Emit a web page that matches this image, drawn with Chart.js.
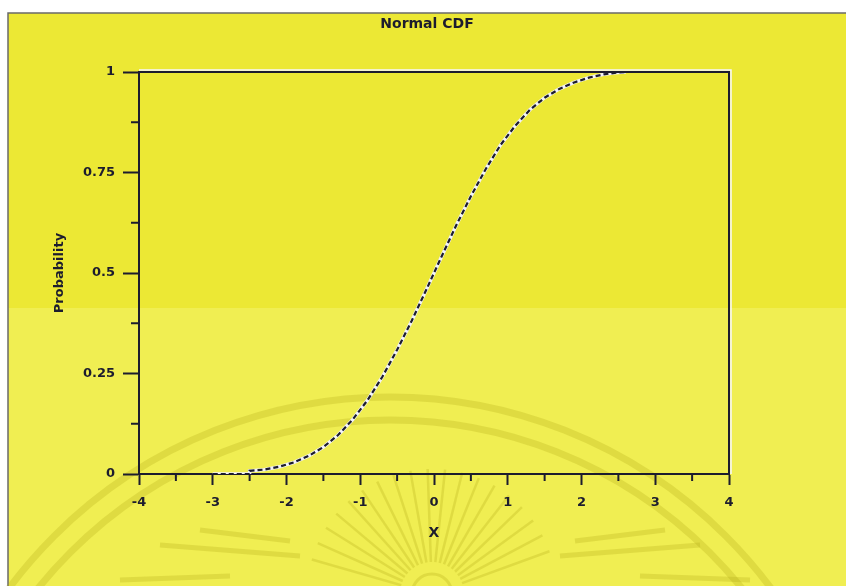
<!DOCTYPE html>
<html>
<head>
<meta charset="utf-8">
<script src="https://cdn.jsdelivr.net/npm/chart.js@4/dist/chart.umd.min.js"></script>
<style>
  html, body { margin: 0; padding: 0; background: #ffffff; }
  #wrap { width: 846px; height: 586px; position: relative; }
</style>
</head>
<body>
<div id="wrap"><canvas id="cdf"></canvas></div>
<script>
// Labels
const chartTitle = 'Normal CDF';
const xAxisTitle = 'X';
const yAxisTitle = 'Probability';

// Axis ticks
const xTickValues = [-4, -3, -2, -1, 0, 1, 2, 3, 4];
const xTickLabels = ['-4', '-3', '-2', '-1', '0', '1', '2', '3', '4'];
const xMinorTicks = [-3.5, -2.5, -1.5, -0.5, 0.5, 1.5, 2.5, 3.5];
const yTickValues = [0, 0.25, 0.5, 0.75, 1];
const yTickLabels = ['0', '0.25', '0.5', '0.75', '1'];
const yMinorTicks = [0.125, 0.375, 0.625, 0.875];

// Cumulative probability curve
const cdfX = [-3.0, -2.5, -2.5, -2.3, -2.1, -1.9, -1.7, -1.5, -1.3, -1.1, -0.9, -0.7, -0.5,
              -0.3, -0.1, 0.1, 0.3, 0.5, 0.7, 0.9, 1.1, 1.3, 1.5, 1.7, 1.9, 2.1, 2.3, 2.45, 2.6];
const cdfY = [0.0, 0.0, 0.008, 0.011, 0.018, 0.029, 0.045, 0.067, 0.097, 0.136, 0.184, 0.242, 0.309,
              0.382, 0.460, 0.540, 0.618, 0.691, 0.758, 0.818, 0.866, 0.906, 0.936, 0.958, 0.974, 0.986, 0.994, 0.998, 1.0];

const points = cdfX.map((x, i) => ({ x: x, y: cdfY[i] }));

const INK = '#1c1c2e';
const FONT = 'DejaVu Sans';

// Page background, seal watermark, plot frame and minor ticks
const framePlugin = {
  id: 'frame',
  beforeDraw(chart) {
    const ctx = chart.ctx;
    const W = chart.width, H = chart.height;
    ctx.save();
    ctx.fillStyle = '#ffffff';
    ctx.fillRect(0, 0, W, H);
    ctx.fillStyle = '#ece834';
    ctx.fillRect(8, 13, W - 8, 308 - 13);
    ctx.fillStyle = '#f0ee52';
    ctx.fillRect(8, 308, W - 8, H - 308);
    ctx.strokeStyle = '#6a6a6a';
    ctx.lineWidth = 1.5;
    ctx.beginPath();
    ctx.moveTo(8, H);
    ctx.lineTo(8, 13);
    ctx.lineTo(W, 13);
    ctx.stroke();

    // faint seal
    ctx.strokeStyle = 'rgba(175, 165, 20, 0.26)';
    ctx.lineWidth = 7;
    ctx.beginPath();
    ctx.arc(390, 872, 475, Math.PI, 2 * Math.PI);
    ctx.stroke();
    ctx.beginPath();
    ctx.arc(390, 872, 452, Math.PI, 2 * Math.PI);
    ctx.stroke();
    const sx = 432, sy = 594;
    ctx.lineWidth = 2.5;
    for (let a = 196; a <= 344; a += 8) {
      const r = a * Math.PI / 180;
      ctx.beginPath();
      ctx.moveTo(sx + 32 * Math.cos(r), sy + 32 * Math.sin(r));
      ctx.lineTo(sx + 125 * Math.cos(r), sy + 125 * Math.sin(r));
      ctx.stroke();
    }
    ctx.lineWidth = 3;
    ctx.beginPath();
    ctx.arc(sx, sy, 20, Math.PI, 2 * Math.PI);
    ctx.stroke();
    ctx.lineWidth = 5;
    [[160, 545, 300, 556], [200, 530, 290, 541], [560, 556, 700, 545], [575, 541, 665, 530],
     [120, 580, 230, 576], [640, 576, 750, 580]].forEach(s => {
      ctx.beginPath();
      ctx.moveTo(s[0], s[1]);
      ctx.lineTo(s[2], s[3]);
      ctx.stroke();
    });
    ctx.restore();
  },
  afterDraw(chart) {
    const ctx = chart.ctx;
    const a = chart.chartArea;
    const xs = chart.scales.x, ys = chart.scales.y;
    ctx.save();
    // light edge outside top and right frame lines
    ctx.strokeStyle = '#f6f6ff';
    ctx.lineWidth = 1.5;
    ctx.beginPath();
    ctx.moveTo(a.left, a.top - 2);
    ctx.lineTo(a.right + 2, a.top - 2);
    ctx.lineTo(a.right + 2, a.bottom);
    ctx.stroke();
    ctx.strokeStyle = INK;
    ctx.lineWidth = 2;
    ctx.beginPath();
    ctx.moveTo(a.left, a.top);
    ctx.lineTo(a.right, a.top);
    ctx.lineTo(a.right, a.bottom);
    ctx.stroke();
    // minor ticks
    ctx.lineWidth = 2;
    xMinorTicks.forEach(v => {
      const px = xs.getPixelForValue(v);
      ctx.beginPath();
      ctx.moveTo(px, a.bottom);
      ctx.lineTo(px, a.bottom + 7);
      ctx.stroke();
    });
    yMinorTicks.forEach(v => {
      const py = ys.getPixelForValue(v);
      ctx.beginPath();
      ctx.moveTo(a.left - 8, py);
      ctx.lineTo(a.left, py);
      ctx.stroke();
    });
    ctx.restore();
  }
};

new Chart(document.getElementById('cdf'), {
  type: 'line',
  data: {
    datasets: [
      {
        data: points,
        borderColor: INK,
        borderWidth: 2.2,
        borderDash: [5, 3],
        pointRadius: 0,
        tension: 0,
        fill: false,
        order: 0
      },
      {
        data: points,
        borderColor: '#f2f2fa',
        borderWidth: 3.4,
        pointRadius: 0,
        tension: 0,
        fill: false,
        order: 1
      }
    ]
  },
  options: {
    responsive: true,
    maintainAspectRatio: false,
    animation: false,
    events: [],
    layout: { padding: { left: 8, right: 0, top: 0, bottom: 0 } },
    plugins: {
      legend: { display: false },
      tooltip: { enabled: false },
      title: {
        display: true,
        text: chartTitle,
        color: INK,
        font: { family: FONT, size: 14, weight: 'bold' },
        padding: { top: 16, bottom: 39.2 }
      }
    },
    scales: {
      x: {
        type: 'linear',
        min: -4,
        max: 4,
        afterBuildTicks: s => { s.ticks = xTickValues.map(v => ({ value: v })); },
        afterFit: s => { s.height = 112; },
        ticks: {
          color: INK,
          font: { family: FONT, size: 13, weight: 'bold' },
          padding: 10,
          maxRotation: 0,
          autoSkip: false,
          callback: (v, i) => xTickLabels[i]
        },
        grid: { drawOnChartArea: false, drawTicks: true, tickLength: 11, tickColor: INK, tickWidth: 2 },
        border: { display: true, color: INK, width: 2 },
        title: {
          display: true,
          text: xAxisTitle,
          color: INK,
          font: { family: FONT, size: 14, weight: 'bold' },
          padding: { top: 0, bottom: 44.6 }
        }
      },
      y: {
        type: 'linear',
        min: 0,
        max: 1,
        afterBuildTicks: s => { s.ticks = yTickValues.map(v => ({ value: v })); },
        afterFit: s => { s.width = 131; },
        ticks: {
          color: INK,
          font: { family: FONT, size: 13, weight: 'bold' },
          padding: 8,
          autoSkip: false,
          callback: (v, i) => yTickLabels[i]
        },
        grid: { drawOnChartArea: false, drawTicks: true, tickLength: 16, tickColor: INK, tickWidth: 2 },
        border: { display: true, color: INK, width: 2 },
        title: {
          display: true,
          text: yAxisTitle,
          color: INK,
          font: { family: FONT, size: 13, weight: 'bold' },
          padding: { top: 44, bottom: 0 }
        }
      },
      // empty band holding the space to the right of the plot frame
      yRight: {
        type: 'linear',
        position: 'right',
        display: true,
        afterFit: s => { s.width = 117; },
        ticks: { display: false },
        grid: { display: false, drawTicks: false },
        border: { display: false }
      }
    }
  },
  plugins: [framePlugin]
});
</script>
</body>
</html>
